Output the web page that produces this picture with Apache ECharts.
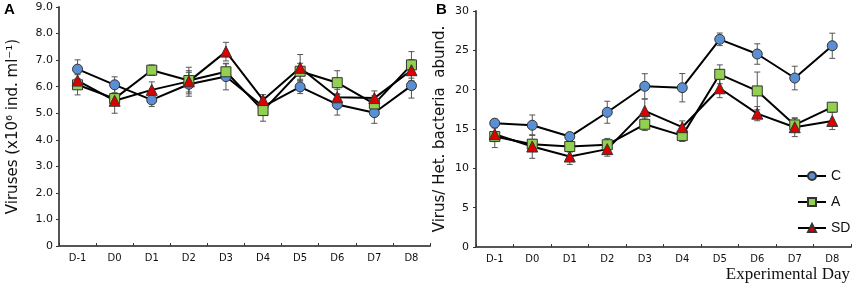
<!DOCTYPE html>
<html>
<head>
<meta charset="utf-8">
<script src="https://cdn.jsdelivr.net/npm/echarts@6/dist/echarts.min.js"></script>
<style>
  html, body { margin: 0; padding: 0; background: #fff; }
  #main { width: 856px; height: 291px; }
</style>
</head>
<body>
<div id="main"></div>
<script>
// categories
var days = ['D-1', 'D0', 'D1', 'D2', 'D3', 'D4', 'D5', 'D6', 'D7', 'D8'];

// panel A: viruses (x10^6 ind. ml-1)
var virC  = [6.66, 6.07, 5.50, 6.09, 6.38, 5.25, 5.99, 5.33, 5.02, 6.04];
var virA  = [6.07, 5.55, 6.62, 6.23, 6.56, 5.10, 6.58, 6.15, 5.35, 6.82];
var virSD = [6.23, 5.47, 5.88, 6.20, 7.32, 5.50, 6.71, 5.60, 5.57, 6.62];
var virCErr  = [0.35, 0.30, 0.25, 0.45, 0.50, 0.30, 0.25, 0.40, 0.40, 0.47];
var virAErr  = [0.38, 0.20, 0.20, 0.50, 0.30, 0.40, 0.30, 0.45, 0.30, 0.50];
var virSDErr = [0.30, 0.47, 0.30, 0.40, 0.35, 0.20, 0.50, 0.30, 0.27, 0.40];

// panel B: virus / het. bacteria abundance
var ratC  = [15.74, 15.48, 14.04, 17.13, 20.43, 20.25, 26.40, 24.53, 21.48, 25.58];
var ratA  = [14.04, 13.07, 12.77, 13.00, 15.60, 14.16, 21.95, 19.84, 15.52, 17.77];
var ratSD = [14.34, 12.77, 11.50, 12.44, 17.30, 15.23, 20.18, 16.95, 15.23, 16.03];
var ratCErr  = [0.50, 1.30, 0.50, 1.40, 1.60, 1.80, 0.80, 1.30, 1.50, 1.60];
var ratAErr  = [1.40, 0.60, 0.70, 0.80, 0.80, 0.75, 1.20, 2.40, 0.80, 0.30];
var ratSDErr = [0.80, 1.50, 1.00, 0.90, 1.50, 0.80, 1.20, 0.90, 1.20, 1.10];

var myChart = echarts.init(document.getElementById('main'));

var axisColor = '#555';
var labelFont = 'DejaVu Sans';

function lineSeries(name, data, symbol, color, idx) {
    return {
        name: name,
        type: 'line',
        xAxisIndex: idx,
        yAxisIndex: idx,
        data: data,
        symbol: symbol,
        symbolSize: symbol === 'triangle' ? 11 : 10,
        lineStyle: { color: '#000', width: 2 },
        itemStyle: { color: color, borderColor: '#333', borderWidth: 1 },
        z: 3
    };
}

function errSeries(vals, errs, idx) {
    var d = vals.map(function (v, i) { return [i, v, errs[i]]; });
    return {
        type: 'custom',
        xAxisIndex: idx,
        yAxisIndex: idx,
        data: d,
        silent: true,
        z: 2,
        renderItem: function (params, api) {
            var i = api.value(0), v = api.value(1), e = api.value(2);
            var top = api.coord([i, v + e]);
            var bot = api.coord([i, v - e]);
            var st = { stroke: '#555', lineWidth: 1 };
            return {
                type: 'group',
                children: [
                    { type: 'line', shape: { x1: top[0], y1: top[1], x2: bot[0], y2: bot[1] }, style: st },
                    { type: 'line', shape: { x1: top[0] - 3, y1: top[1], x2: top[0] + 3, y2: top[1] }, style: st },
                    { type: 'line', shape: { x1: bot[0] - 3, y1: bot[1], x2: bot[0] + 3, y2: bot[1] }, style: st }
                ]
            };
        }
    };
}

function xAx(idx) {
    return {
        type: 'category',
        gridIndex: idx,
        data: days,
        boundaryGap: true,
        axisLine: { lineStyle: { color: axisColor, width: 2 } },
        axisTick: { show: true, inside: true, length: 3, lineStyle: { color: '#333' } },
        axisLabel: { color: '#111', fontFamily: labelFont, fontSize: 10, margin: 7 },
        splitLine: { show: false }
    };
}

option = {
    animation: false,
    backgroundColor: '#fff',
    grid: [
        { left: 59, top: 7, width: 371, height: 239 },
        { left: 476, top: 11, width: 375, height: 236 }
    ],
    xAxis: [xAx(0), xAx(1)],
    yAxis: [
        {
            type: 'value', gridIndex: 0, min: 0, max: 9, interval: 1,
            name: 'Viruses (x10\u2076 ind. ml\u207B\u00B9)',
            nameLocation: 'middle', nameGap: 38,
            nameTextStyle: { fontFamily: labelFont, fontSize: 15, color: '#111' },
            axisLine: { show: true, lineStyle: { color: axisColor, width: 2 } },
            axisTick: { show: true, length: 3, lineStyle: { color: '#333' } },
            axisLabel: {
                color: '#111', fontFamily: labelFont, fontSize: 11, margin: 6,
                formatter: function (v) { return v === 0 ? '0' : v.toFixed(1); }
            },
            splitLine: { show: false }
        },
        {
            type: 'value', gridIndex: 1, min: 0, max: 30, interval: 5,
            name: 'Virus/ Het. bacteria  abund.',
            nameLocation: 'middle', nameGap: 28,
            nameTextStyle: { fontFamily: labelFont, fontSize: 15, color: '#111' },
            axisLine: { show: true, lineStyle: { color: axisColor, width: 2 } },
            axisTick: { show: true, length: 3, lineStyle: { color: '#333' } },
            axisLabel: { color: '#111', fontFamily: labelFont, fontSize: 11, margin: 7 },
            splitLine: { show: false }
        }
    ],
    legend: {
        data: ['C', 'A', 'SD'],
        orient: 'vertical',
        left: 792,
        top: 164,
        itemWidth: 28,
        itemHeight: 10,
        itemGap: 12,
        textStyle: { fontFamily: 'Liberation Sans', fontSize: 14, color: '#111' }
    },
    graphic: [
        { type: 'text', left: 4, top: 2, style: { text: 'A', font: 'bold 15px Liberation Sans', fill: '#000' } },
        { type: 'text', left: 436, top: 2, style: { text: 'B', font: 'bold 15px Liberation Sans', fill: '#000' } },
        { type: 'text', right: 6, top: 266, style: { text: 'Experimental Day', font: '17px Liberation Serif', fill: '#111' } }
    ],
    series: [
        errSeries(virC, virCErr, 0),
        errSeries(virA, virAErr, 0),
        errSeries(virSD, virSDErr, 0),
        lineSeries('C', virC, 'circle', '#5b8fd3', 0),
        lineSeries('A', virA, 'rect', '#92d050', 0),
        lineSeries('SD', virSD, 'triangle', '#dd0000', 0),
        errSeries(ratC, ratCErr, 1),
        errSeries(ratA, ratAErr, 1),
        errSeries(ratSD, ratSDErr, 1),
        lineSeries('C', ratC, 'circle', '#5b8fd3', 1),
        lineSeries('A', ratA, 'rect', '#92d050', 1),
        lineSeries('SD', ratSD, 'triangle', '#dd0000', 1)
    ]
};

myChart.setOption(option);
</script>
</body>
</html>
